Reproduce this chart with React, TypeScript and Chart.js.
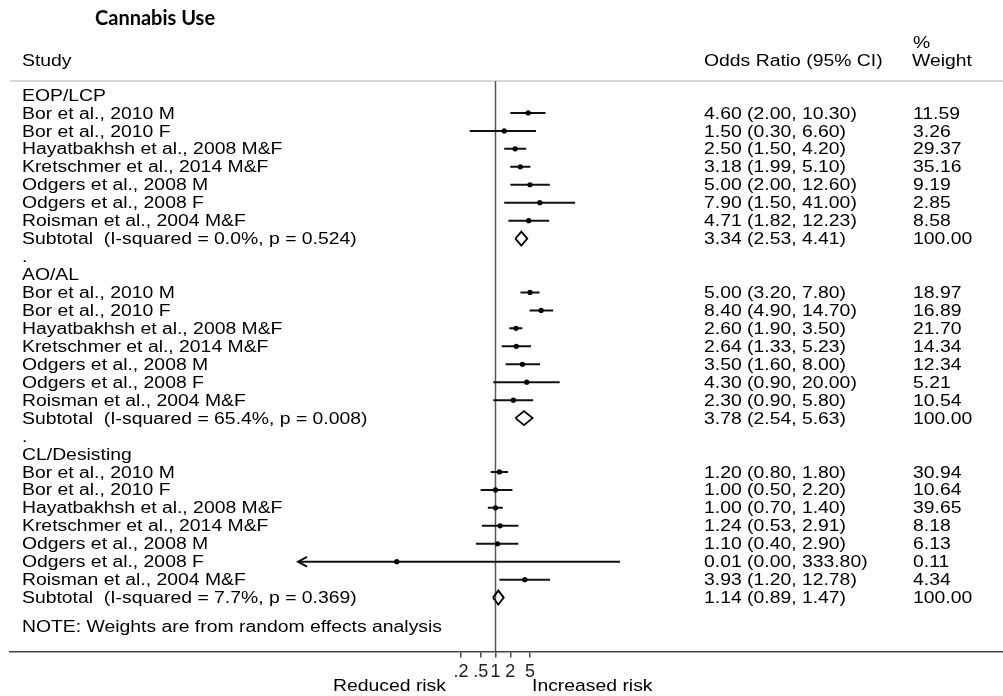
import { useEffect, useRef } from "react";
import { Chart, registerables } from "chart.js";

Chart.register(...registerables);

// ---------------- data ----------------
const chartTitle = "Cannabis Use";
const groupNames = ["EOP/LCP", "AO/AL", "CL/Desisting"];
const studyNames = [
  "Bor et al., 2010 M",
  "Bor et al., 2010 F",
  "Hayatbakhsh et al., 2008 M&F",
  "Kretschmer et al., 2014 M&F",
  "Odgers et al., 2008 M",
  "Odgers et al., 2008 F",
  "Roisman et al., 2004 M&F",
];
const subtotalLabels = [
  "Subtotal  (I-squared = 0.0%, p = 0.524)",
  "Subtotal  (I-squared = 65.4%, p = 0.008)",
  "Subtotal  (I-squared = 7.7%, p = 0.369)",
];
const oddsRatio = [
  [4.6, 1.5, 2.5, 3.18, 5.0, 7.9, 4.71],
  [5.0, 8.4, 2.6, 2.64, 3.5, 4.3, 2.3],
  [1.2, 1.0, 1.0, 1.24, 1.1, 0.01, 3.93],
];
const ciLower = [
  [2.0, 0.3, 1.5, 1.99, 2.0, 1.5, 1.82],
  [3.2, 4.9, 1.9, 1.33, 1.6, 0.9, 0.9],
  [0.8, 0.5, 0.7, 0.53, 0.4, 0.0, 1.2],
];
const ciUpper = [
  [10.3, 6.6, 4.2, 5.1, 12.6, 41.0, 12.23],
  [7.8, 14.7, 3.5, 5.23, 8.0, 20.0, 5.8],
  [1.8, 2.2, 1.4, 2.91, 2.9, 333.8, 12.78],
];
const weights = [
  [11.59, 3.26, 29.37, 35.16, 9.19, 2.85, 8.58],
  [18.97, 16.89, 21.7, 14.34, 12.34, 5.21, 10.54],
  [30.94, 10.64, 39.65, 8.18, 6.13, 0.11, 4.34],
];
const subtotalOR = [3.34, 3.78, 1.14];
const subtotalLower = [2.53, 2.54, 0.89];
const subtotalUpper = [4.41, 5.63, 1.47];
const subtotalWeight = [100.0, 100.0, 100.0];
const xTickValues = [0.2, 0.5, 1, 2, 5];
const xTickLabels = [".2", ".5", "1", "2", "5"];
const headerStudy = "Study";
const headerOR = "Odds Ratio (95% CI)";
const headerWeight1 = "%";
const headerWeight2 = "Weight";
const noteText = "NOTE: Weights are from random effects analysis";
const leftAxisLabel = "Reduced risk";
const rightAxisLabel = "Increased risk";

// ---------------- layout constants ----------------
const CI_CLIP = 0.0001; // lower display limit; smaller bounds get an arrow
const X_MIN = Math.pow(10, (10 - 495.5) / 49.36);
const X_MAX = Math.pow(10, (1003 - 495.5) / 49.36);
const Y_MIN = -5.293;
const Y_MAX = 31.003;
const ROWS_PER_GROUP = 10;
const SEP_ROW = -0.78;
const NOTE_ROW = 29.58;
const FONT = 'Arial, "Liberation Sans", sans-serif';
const SX = 1.21;

const groupRow = (g: number) => g * ROWS_PER_GROUP;
const studyRow = (g: number, i: number) => g * ROWS_PER_GROUP + 1 + i;
const subtotalRow = (g: number) => g * ROWS_PER_GROUP + 8;
const dotRow = (g: number) => g * ROWS_PER_GROUP + 9;
const fmt = (v: number) => v.toFixed(2);

const textPlugin = {
  id: "forestText",
  afterDraw(chart: any) {
    const ctx: CanvasRenderingContext2D = chart.ctx;
    const ys = chart.scales.y;
    const rowY = (r: number) => ys.getPixelForValue(r);
    const put = (t: string, x: number, yMid: number) => {
      ctx.save();
      ctx.translate(x, yMid + 5.6);
      ctx.scale(SX, 1);
      ctx.fillText(t, 0, 0);
      ctx.restore();
    };
    ctx.save();
    ctx.fillStyle = "#000";
    ctx.textBaseline = "alphabetic";
    ctx.textAlign = "left";
    // title
    ctx.font = `bold 20px Lato, "Open Sans", sans-serif`;
    ctx.fillText(chartTitle, 95, 25);
    ctx.font = `16px ${FONT}`;
    // header
    put(headerStudy, 22, rowY(-1.95));
    put(headerOR, 704, rowY(-1.95));
    put(headerWeight1, 913, rowY(-2.95));
    put(headerWeight2, 912, rowY(-1.95));
    groupNames.forEach((gname, g) => {
      put(gname, 22, rowY(groupRow(g)));
      studyNames.forEach((s, i) => {
        const y = rowY(studyRow(g, i));
        put(s, 22, y);
        put(`${fmt(oddsRatio[g][i])} (${fmt(ciLower[g][i])}, ${fmt(ciUpper[g][i])})`, 704, y);
        put(fmt(weights[g][i]), 913, y);
      });
      const ys2 = rowY(subtotalRow(g));
      put(subtotalLabels[g], 22, ys2);
      put(`${fmt(subtotalOR[g])} (${fmt(subtotalLower[g])}, ${fmt(subtotalUpper[g])})`, 704, ys2);
      put(fmt(subtotalWeight[g]), 913, ys2);
      if (g < groupNames.length - 1) put(".", 22, rowY(dotRow(g)));
    });
    put(noteText, 22, rowY(NOTE_ROW));
    put(leftAxisLabel, 333, 685);
    put(rightAxisLabel, 532, 685);
    ctx.restore();
  },
};

export default function App() {
  const ref = useRef<HTMLCanvasElement | null>(null);
  useEffect(() => {
    if (!ref.current) return;
    const datasets: any[] = [];
    const lineDs = (data: any[], color: string, width: number, order: number) => ({
      data,
      showLine: true,
      borderColor: color,
      backgroundColor: color,
      borderWidth: width,
      pointRadius: 0,
      fill: false,
      tension: 0,
      order,
    });
    // reference line at OR = 1
    datasets.push(lineDs([{ x: 1, y: SEP_ROW }, { x: 1, y: Y_MAX }], "#555", 1.5, 100));
    // header separator
    datasets.push(lineDs([{ x: X_MIN, y: SEP_ROW }, { x: X_MAX, y: SEP_ROW }], "#c8c8c8", 1.5, 100));
    const pts: any[] = [];
    groupNames.forEach((_, g) => {
      studyNames.forEach((__, i) => {
        const r = studyRow(g, i);
        const lo = Math.max(ciLower[g][i], CI_CLIP);
        datasets.push(lineDs([{ x: lo, y: r }, { x: ciUpper[g][i], y: r }], "#111", 2, 5));
        if (ciLower[g][i] < CI_CLIP) {
          datasets.push(
            lineDs(
              [
                { x: CI_CLIP * 1.52, y: r - 0.27 },
                { x: CI_CLIP, y: r },
                { x: CI_CLIP * 1.52, y: r + 0.27 },
              ],
              "#111",
              2,
              5
            )
          );
        }
        pts.push({ x: oddsRatio[g][i], y: r });
      });
      const sr = subtotalRow(g);
      datasets.push(
        lineDs(
          [
            { x: subtotalLower[g], y: sr },
            { x: subtotalOR[g], y: sr - 0.39 },
            { x: subtotalUpper[g], y: sr },
            { x: subtotalOR[g], y: sr + 0.39 },
            { x: subtotalLower[g], y: sr },
          ],
          "#000",
          1.8,
          2
        )
      );
    });
    datasets.push({
      data: pts,
      pointRadius: 2.6,
      pointBackgroundColor: "#000",
      pointBorderWidth: 0,
      showLine: false,
      order: 1,
    });

    const chart = new Chart(ref.current, {
      type: "scatter",
      data: { datasets },
      plugins: [textPlugin],
      options: {
        animation: false,
        responsive: false,
        devicePixelRatio: 1,
        events: [],
        layout: { autoPadding: false, padding: { left: 10, right: 0, top: 0, bottom: 0 } },
        plugins: { legend: { display: false }, tooltip: { enabled: false }, title: { display: false } },
        scales: {
          x: {
            type: "logarithmic",
            position: "bottom",
            min: X_MIN,
            max: X_MAX,
            afterBuildTicks: (scale: any) => {
              scale.ticks = xTickValues.map((v) => ({ value: v }));
            },
            afterFit: (scale: any) => {
              scale.height = 44.5;
            },
            ticks: {
              autoSkip: false,
              maxRotation: 0,
              padding: 4,
              color: "#222",
              font: { family: FONT, size: 18 },
              callback: (_v: any, idx: number) => xTickLabels[idx],
            },
            grid: {
              display: true,
              drawOnChartArea: false,
              drawTicks: true,
              tickLength: 6,
              color: "#444",
              lineWidth: 1.5,
            },
            border: { display: true, color: "#444", width: 1.5 },
          },
          y: {
            type: "linear",
            display: false,
            reverse: true,
            min: Y_MIN,
            max: Y_MAX,
          },
        },
      } as any,
    });
    return () => chart.destroy();
  }, []);
  return (
    <div style={{ position: "absolute", left: 0, top: 0, width: 1003, height: 696, background: "#fff" }}>
      <canvas ref={ref} width={1003} height={696} style={{ width: 1003, height: 696, display: "block" }} />
    </div>
  );
}
